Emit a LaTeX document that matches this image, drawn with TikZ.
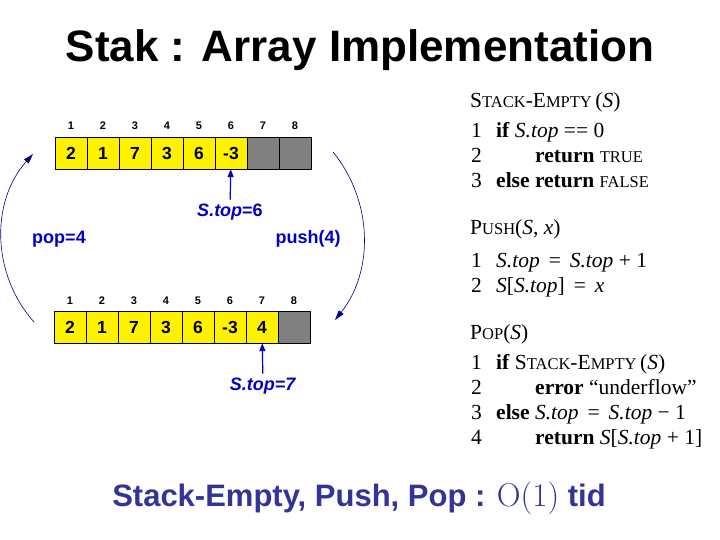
\documentclass[tikz,border=0pt]{standalone}
\usepackage{fontspec}
\setmainfont{Liberation Sans}
\newfontfamily\codefont{Liberation Serif}
\newfontfamily\bigofont{Latin Modern Roman}
\usetikzlibrary{positioning, arrows.meta}
\definecolor{ptrblue}{RGB}{0,0,200}
\definecolor{arcblue}{RGB}{0,0,128}
\definecolor{footblue}{RGB}{51,51,153}
\definecolor{cellgray}{RGB}{128,128,128}
\newcommand{\smc}[1]{{\fontsize{16.5}{19}\selectfont #1}}
\tikzset{
    cell/.style={draw, minimum width=32pt, minimum height=32pt, inner sep=0pt, font=\fontsize{17.5}{20}\selectfont\bfseries},
    idx/.style={anchor=base, inner sep=0pt, font=\fontsize{11}{13}\selectfont\bfseries},
    ptr/.style={draw=ptrblue, line width=1.2pt, -{Triangle[length=8pt,width=6pt]}},
    ptrlabel/.style={text=ptrblue, inner sep=4pt, font=\fontsize{18}{21}\selectfont\bfseries},
    swing/.style={draw=arcblue, line width=0.6pt, -{Triangle[length=10pt,width=6pt]}},
    code/.style={anchor=base west, inner sep=0pt, font=\codefont\fontsize{21.5}{25}\selectfont},
}

\begin{document}
\begin{tikzpicture}[x=1pt, y=-1pt]
\useasboundingbox (0,0) rectangle (720,540);

\node[anchor=base, font=\fontsize{44}{50}\selectfont\bfseries] (title) at (360,62) {Stak : Array Implementation};

\foreach \i/\v in {1/2, 2/1, 3/7, 4/3, 5/6, 6/-3} {
    \node[cell, fill=yellow] (a\i) at ({39+32*\i},153) {\v};
}
\foreach \i in {7, 8} {
    \node[cell, fill=cellgray] (a\i) at ({39+32*\i},153) {};
}
\foreach \i in {1,...,8} {
    \node[idx] (ai\i) at ([yshift=7pt]a\i.north) {\i};
}

\foreach \i/\v in {1/2, 2/1, 3/7, 4/3, 5/6, 6/-3, 7/4} {
    \node[cell, fill=yellow] (b\i) at ({38+32*\i},327) {\v};
}
\node[cell, fill=cellgray] (b8) at ({38+32*8},327) {};
\foreach \i in {1,...,8} {
    \node[idx] (bi\i) at ([yshift=6pt]b\i.north) {\i};
}

\node[ptrlabel] (top6) at (230,212) {\textit{S.top}=6};
\draw[ptr] (top6) -- (a6);
\node[ptrlabel] (top7) at (263,386) {\textit{S.top=7}};
\draw[ptr] (top7) -- (b7);

\node[ptrlabel] (pop) at (59,239) {pop=4};
\node[ptrlabel] (push) at (308,239) {push(4)};

\coordinate (popfrom) at (34,322);
\coordinate (popto) at (33,154);
\draw[swing] (popfrom) .. controls (-8,275) and (-10,202) .. (popto);
\coordinate (pushfrom) at (333,152);
\coordinate (pushto) at (335,320);
\draw[swing] (pushfrom) .. controls (373,201) and (374,271) .. (pushto);

\node[code] (sehead) at (470,108) {S\smc{TACK}-E\smc{MPTY}\,(\textit{S})};
\foreach \n/\y in {1/138, 2/163, 3/188} {
    \node[code] (senum\n) at (471,\y) {\n};
}
\node[code] (se1) at (496,138) {\textbf{if} \textit{S.top} == 0};
\node[code] (se2) at (535,163) {\textbf{return} \smc{TRUE}};
\node[code] (se3) at (496,188) {\textbf{else return} \smc{FALSE}};

\node[code] (pshead) at (470,235) {P\smc{USH}(\textit{S}, \textit{x})};
\foreach \n/\y in {1/267, 2/292} {
    \node[code] (psnum\n) at (471,\y) {\n};
}
\node[code] (ps1) at (496,267) {\textit{S.top} \,=\, \textit{S.top} + 1};
\node[code] (ps2) at (496,292) {\textit{S}[\textit{S.top}] \,=\, \textit{x}};

\node[code] (pphead) at (470,339) {P\smc{OP}(\textit{S})};
\foreach \n/\y in {1/369, 2/394, 3/419, 4/444} {
    \node[code] (ppnum\n) at (471,\y) {\n};
}
\node[code] (pp1) at (496,369) {\textbf{if} S\smc{TACK}-E\smc{MPTY}\,(\textit{S})};
\node[code] (pp2) at (535,394) {\textbf{error} “underflow”};
\node[code] (pp3) at (496,419) {\textbf{else} \textit{S.top} \,=\, \textit{S.top} − 1};
\node[code] (pp4) at (535,444) {\textbf{return} \textit{S}[\textit{S.top} + 1]};

\node[anchor=base, text=footblue, font=\fontsize{31}{34}\selectfont\bfseries] (foot) at (359,506) {Stack-Empty, Push, Pop : {\bigofont\mdseries\fontsize{33}{34}\selectfont O(1)} tid};
\end{tikzpicture}
\end{document}
